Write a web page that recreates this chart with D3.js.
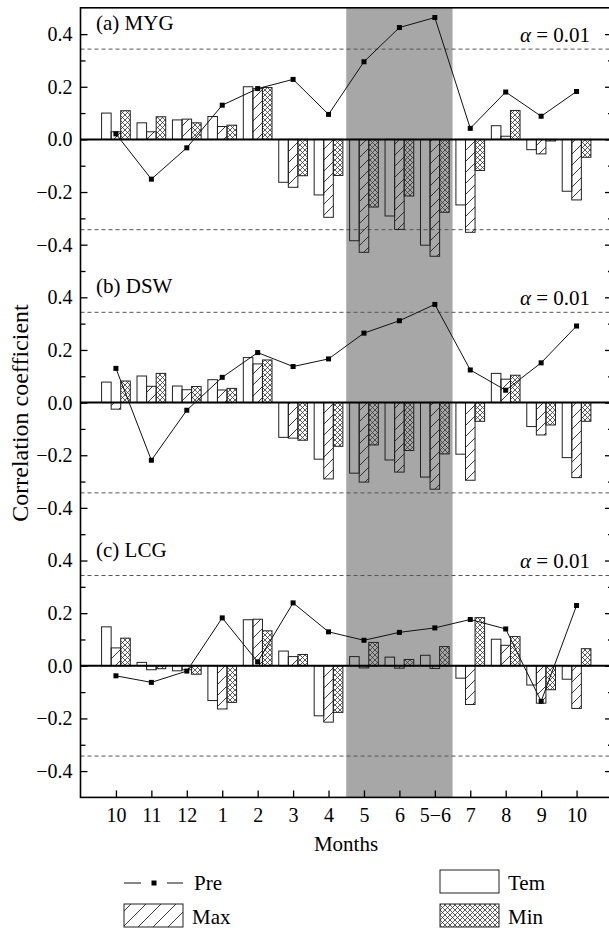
<!DOCTYPE html>
<html>
<head>
<meta charset="utf-8">
<script src="https://cdn.jsdelivr.net/npm/d3@7"></script>
<style>
body{margin:0;background:#fff;}
svg{display:block;font-family:"Liberation Serif","Times New Roman",serif;}
</style>
</head>
<body>
<svg id="chart" width="609" height="931"></svg>
<script>
// month labels along the x axis (Oct of previous year .. Oct)
const months = ["10","11","12","1","2","3","4","5","6","5\u22126","7","8","9","10"];
const panelNames = ["(a) MYG","(b) DSW","(c) LCG"];
const alphaLevel = 0.343;
const growingSeason = [7.5, 10.5];

// (a) MYG
const temMYG = [0.100, 0.063, 0.074, 0.087, 0.200, -0.163, -0.211, -0.385, -0.291, -0.402, -0.249, 0.052, -0.039, -0.197];
const maxMYG = [0.029, 0.029, 0.077, 0.049, 0.193, -0.182, -0.296, -0.429, -0.342, -0.444, -0.353, 0.012, -0.055, -0.230];
const minMYG = [0.109, 0.086, 0.063, 0.054, 0.197, -0.138, -0.137, -0.257, -0.215, -0.277, -0.118, 0.110, -0.006, -0.068];
const preMYG = [0.021, -0.151, -0.032, 0.130, 0.193, 0.228, 0.095, 0.295, 0.425, 0.463, 0.042, 0.180, 0.088, 0.182];

// (b) DSW
const temDSW = [0.078, 0.101, 0.063, 0.087, 0.171, -0.132, -0.215, -0.268, -0.218, -0.283, -0.196, 0.111, -0.091, -0.209];
const maxDSW = [-0.025, 0.062, 0.049, 0.048, 0.147, -0.135, -0.290, -0.302, -0.264, -0.329, -0.295, 0.089, -0.123, -0.285];
const minDSW = [0.082, 0.111, 0.061, 0.054, 0.162, -0.143, -0.166, -0.161, -0.182, -0.195, -0.071, 0.104, -0.085, -0.071];
const preDSW = [0.130, -0.219, -0.029, 0.096, 0.190, 0.137, 0.166, 0.264, 0.311, 0.373, 0.124, 0.047, 0.151, 0.291];

// (c) LCG
const temLCG = [0.148, 0.013, -0.019, -0.132, 0.175, 0.056, -0.190, 0.035, 0.033, 0.040, -0.047, 0.101, -0.073, -0.051];
const maxLCG = [0.068, -0.015, -0.015, -0.164, 0.177, 0.035, -0.214, -0.008, -0.009, -0.010, -0.147, 0.078, -0.142, -0.162];
const minLCG = [0.105, -0.011, -0.032, -0.139, 0.133, 0.043, -0.177, 0.089, 0.024, 0.073, 0.183, 0.111, -0.091, 0.065];
const preLCG = [-0.038, -0.063, -0.020, 0.182, 0.015, 0.239, 0.129, 0.097, 0.127, 0.144, 0.176, 0.140, -0.135, 0.229];

const panels = [
    {name: panelNames[0], tem: temMYG, max: maxMYG, min: minMYG, pre: preMYG},
    {name: panelNames[1], tem: temDSW, max: maxDSW, min: minDSW, pre: preDSW},
    {name: panelNames[2], tem: temLCG, max: maxLCG, min: minLCG, pre: preLCG}
];

const svg = d3.select("#chart");
const plotLeft = 80.5, plotRight = 612, plotTop = 7.8, panelH = 263.2;
const plotBottom = plotTop + 3 * panelH;

const x = d3.scaleLinear().domain([0, 15]).range([plotLeft, plotRight]);
const step = x(1) - x(0);
const sub = d3.scaleBand().domain(["tem", "max", "min"]).range([-0.405 * step, 0.405 * step]);

//patterns
let defs = svg.append("defs");
function hatch(id, size){
    defs.append("pattern").attr("id", id)
        .attr("patternUnits", "userSpaceOnUse")
        .attr("width", size).attr("height", size)
        .append("path")
        .attr("d", `M0,${size} L${size},0 M${-size/4},${size/4} L${size/4},${-size/4} M${size*3/4},${size*5/4} L${size*5/4},${size*3/4}`)
        .attr("stroke", "#222").attr("stroke-width", 0.9);
}
hatch("hatch", 11);
hatch("hatchLegend", 15);
let cross = defs.append("pattern").attr("id", "cross")
    .attr("patternUnits", "userSpaceOnUse")
    .attr("width", 5).attr("height", 5);
cross.append("path").attr("d", "M0,0 L5,5 M5,0 L0,5")
    .attr("stroke", "#333").attr("stroke-width", 0.8);

const fills = {tem: "none", max: "url(#hatch)", min: "url(#cross)"};

//shaded growing season
svg.append("rect")
    .attr("x", x(growingSeason[0]))
    .attr("y", plotTop)
    .attr("width", x(growingSeason[1]) - x(growingSeason[0]))
    .attr("height", plotBottom - plotTop)
    .attr("fill", "#a7a7a7");

panels.forEach((p, k) => {
    let y = d3.scaleLinear().domain([-0.5, 0.5]).range([plotTop + (k + 1) * panelH, plotTop + k * panelH]);
    let g = svg.append("g");

    //significance lines
    g.selectAll(".sig").data([alphaLevel, -alphaLevel]).join("line")
        .attr("x1", plotLeft).attr("x2", plotRight)
        .attr("y1", d => y(d)).attr("y2", d => y(d))
        .attr("stroke", "#555").attr("stroke-width", 1)
        .attr("stroke-dasharray", "4,3");

    //bars
    let rows = [];
    months.forEach((m, i) => {
        ["tem", "max", "min"].forEach(s => rows.push({pos: i + 1, key: s, v: p[s][i]}));
    });
    g.selectAll(".bar").data(rows).join("rect")
        .attr("x", d => x(d.pos) + sub(d.key))
        .attr("width", sub.bandwidth())
        .attr("y", d => y(Math.max(0, d.v)))
        .attr("height", d => Math.abs(y(d.v) - y(0)))
        .attr("fill", d => fills[d.key])
        .attr("stroke", "#222").attr("stroke-width", 1);

    //zero line
    g.append("line")
        .attr("x1", plotLeft).attr("x2", plotRight)
        .attr("y1", y(0)).attr("y2", y(0))
        .attr("stroke", "#000").attr("stroke-width", 2);

    //precipitation line + markers
    let line = d3.line().x((d, i) => x(i + 1)).y(d => y(d));
    g.append("path").datum(p.pre)
        .attr("d", line)
        .attr("fill", "none").attr("stroke", "#111").attr("stroke-width", 1);
    g.selectAll(".mk").data(p.pre).join("rect")
        .attr("x", (d, i) => x(i + 1) - 2.5)
        .attr("y", d => y(d) - 2.5)
        .attr("width", 5).attr("height", 5)
        .attr("fill", "#000");

    //left axis: labelled majors + minors
    let majors = [-0.4, -0.2, 0, 0.2, 0.4];
    let minors = [-0.3, -0.1, 0.1, 0.3];
    if (k < 2) minors.push(-0.5);
    let yAxis = g.append("g").attr("transform", `translate(${plotLeft},0)`)
        .call(d3.axisLeft(y).tickValues(majors).tickFormat(d3.format(".1f"))
            .tickSizeInner(-7).tickSizeOuter(0).tickPadding(8));
    yAxis.attr("font-family", null).attr("font-size", 20);
    yAxis.select(".domain").remove();
    g.append("g").attr("transform", `translate(${plotLeft},0)`)
        .call(d3.axisLeft(y).tickValues(minors).tickFormat("").tickSizeInner(-5).tickSizeOuter(0))
        .select(".domain").remove();

    //right axis ticks
    let rAxis = g.append("g").attr("transform", `translate(${plotRight},0)`)
        .call(d3.axisRight(y).tickValues(majors).tickFormat("").tickSizeInner(-7).tickSizeOuter(0));
    rAxis.select(".domain").remove();
    g.append("g").attr("transform", `translate(${plotRight},0)`)
        .call(d3.axisRight(y).tickValues(minors).tickFormat("").tickSizeInner(-4).tickSizeOuter(0))
        .select(".domain").remove();
    g.selectAll(".tick line").attr("stroke-width", 1.3);

    //panel name and alpha label
    g.append("text")
        .attr("x", 96).attr("y", y(0.415))
        .attr("font-size", 21)
        .text(p.name);
    let a = g.append("text")
        .attr("x", 590).attr("y", y(0.37))
        .attr("text-anchor", "end")
        .attr("font-size", 21);
    a.append("tspan").attr("font-style", "italic").text("\u03b1");
    a.append("tspan").text(" = 0.01");
});

//frame
svg.append("rect")
    .attr("x", plotLeft).attr("y", plotTop)
    .attr("width", plotRight - plotLeft).attr("height", plotBottom - plotTop)
    .attr("fill", "none").attr("stroke", "#000").attr("stroke-width", 1.6);

//x axis
let xAxis = svg.append("g").attr("transform", `translate(0,${plotBottom})`)
    .call(d3.axisBottom(x).tickValues(d3.range(1, 15)).tickFormat(d => months[d - 1])
        .tickSizeInner(-7).tickSizeOuter(0).tickPadding(10));
xAxis.attr("font-family", null).attr("font-size", 20);
xAxis.select(".domain").remove();
xAxis.selectAll(".tick line").attr("stroke-width", 1.3);

//axis titles
svg.append("text")
    .attr("x", 346).attr("y", 851)
    .attr("text-anchor", "middle")
    .attr("font-size", 21)
    .text("Months");
svg.append("text")
    .attr("transform", `translate(28,413) rotate(-90)`)
    .attr("text-anchor", "middle")
    .attr("font-size", 24)
    .text("Correlation coefficient");

//legend
let lg = svg.append("g").attr("font-size", 21);
lg.selectAll(".seg").data([[124, 141], [167, 183]]).join("line")
    .attr("x1", d => d[0]).attr("x2", d => d[1])
    .attr("y1", 883).attr("y2", 883)
    .attr("stroke", "#111").attr("stroke-width", 1);
lg.append("rect").attr("x", 151.5).attr("y", 880.5).attr("width", 5).attr("height", 5).attr("fill", "#000");
lg.append("text").attr("x", 194).attr("y", 890).text("Pre");

let boxes = [
    {label: "Tem", fill: "none", x: 440, y: 870},
    {label: "Max", fill: "url(#hatchLegend)", x: 124, y: 904},
    {label: "Min", fill: "url(#cross)", x: 440, y: 904}
];
boxes.forEach(b => {
    lg.append("rect")
        .attr("x", b.x).attr("y", b.y)
        .attr("width", 59).attr("height", 23)
        .attr("fill", b.fill)
        .attr("stroke", "#222").attr("stroke-width", 1);
    lg.append("text").attr("x", b.x + 68).attr("y", b.y + 20).text(b.label);
});
</script>
</body>
</html>
